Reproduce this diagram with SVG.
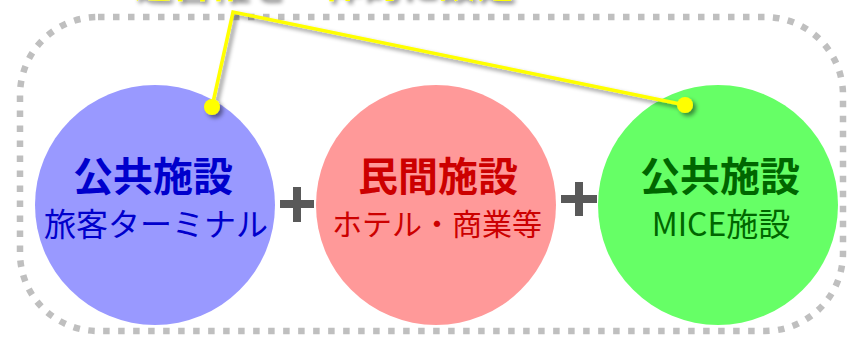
<svg xmlns="http://www.w3.org/2000/svg" width="847" height="341" viewBox="0 0 847 341">
  <defs>
    <filter id="shadow" x="-20%" y="-20%" width="140%" height="140%">
      <feDropShadow dx="3" dy="3" stdDeviation="2" flood-color="#000" flood-opacity="0.45"/>
    </filter>
    <style>
      .jp { font-family: "Noto Sans CJK JP", "Noto Sans", sans-serif; text-anchor: middle; }
      .title { font-size: 40px; font-weight: bold; }
      .sub { font-size: 32px; font-weight: normal; }
      .sub.narrow { font-size: 30px; }
      .plus { stroke: #595959; stroke-width: 8; fill: none; }
      .conn { stroke: #ffff00; stroke-width: 3.5; fill: none; stroke-linejoin: miter; }
      .dot { fill: #ffff00; }
    </style>
  </defs>

  <rect id="frame" x="20" y="17" width="823" height="314" rx="78" ry="78" fill="none" stroke="#bfbfbf" stroke-width="6.5" stroke-dasharray="6.5 8.5"/>

  <g id="caption" filter="url(#shadow)">
    <text x="134" y="-3" font-family="Noto Sans CJK JP, sans-serif" font-size="38" font-weight="bold" fill="#ffff00">運営権を一体的に設定</text>
  </g>

  <g id="node-public-terminal">
    <circle cx="155" cy="205" r="120" fill="#9999ff"/>
    <text class="jp title" x="153" y="191" fill="#0000cc">公共施設</text>
    <text class="jp sub" x="156" y="235.5" fill="#0000cc">旅客ターミナル</text>
  </g>

  <g id="node-private">
    <circle cx="436" cy="205" r="120" fill="#ff9999"/>
    <text class="jp title" x="438" y="191" fill="#cc0000">民間施設</text>
    <text class="jp sub narrow" x="437" y="235" fill="#cc0000">ホテル・商業等</text>
  </g>

  <g id="node-public-mice">
    <circle cx="718" cy="205" r="120" fill="#66ff66"/>
    <text class="jp title" x="720" y="191" fill="#006600">公共施設</text>
    <text class="jp sub" x="721" y="235.5" fill="#006600">MICE施設</text>
  </g>

  <g id="plus-1">
    <path class="plus" d="M280 204 H314 M297 187 V222"/>
  </g>
  <g id="plus-2">
    <path class="plus" d="M561 199 H597 M579 182 V216"/>
  </g>

  <g id="connectors" filter="url(#shadow)">
    <polyline class="conn" points="212,107 233,12 685,105"/>
    <circle class="dot" cx="212" cy="107" r="8"/>
    <circle class="dot" cx="685" cy="105" r="8"/>
  </g>
</svg>
